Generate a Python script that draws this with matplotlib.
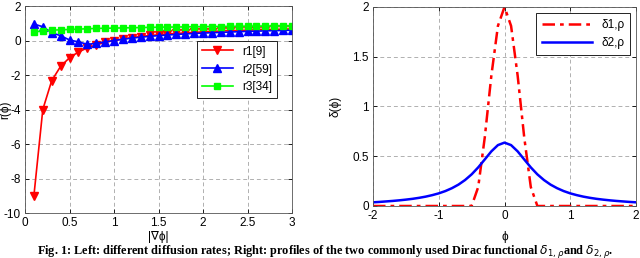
import matplotlib
matplotlib.use("Agg")
import matplotlib.pyplot as plt

plt.rcParams['font.family'] = ['Liberation Sans', 'DejaVu Sans']
plt.rcParams['axes.unicode_minus'] = False
plt.rcParams['font.size'] = 8.5

# left panel: diffusion rates vs |grad phi|
grad = [0.1, 0.2, 0.3, 0.4, 0.5, 0.6, 0.7, 0.8, 0.9, 1.0,
        1.1, 1.2, 1.3, 1.4, 1.5, 1.6, 1.7, 1.8, 1.9, 2.0,
        2.1, 2.2, 2.3, 2.4, 2.5, 2.6, 2.7, 2.8, 2.9, 3.0]
r1 = [-9.0, -4.0, -2.33, -1.5, -1.0, -0.67, -0.43, -0.25, -0.11, 0.0,
      0.09, 0.17, 0.23, 0.29, 0.33, 0.38, 0.41, 0.44, 0.47, 0.5,
      0.52, 0.55, 0.57, 0.58, 0.6, 0.62, 0.63, 0.64, 0.66, 0.67]
r2 = [0.95, 0.8, 0.45, 0.28, 0.03, -0.08, -0.22, -0.17, -0.08, 0.0,
      0.07, 0.14, 0.19, 0.24, 0.28, 0.32, 0.35, 0.38, 0.41, 0.43,
      0.45, 0.47, 0.49, 0.51, 0.53, 0.54, 0.56, 0.57, 0.58, 0.6]
r3 = [0.5, 0.55, 0.6, 0.62, 0.64, 0.66, 0.68, 0.7, 0.71, 0.72,
      0.73, 0.74, 0.75, 0.76, 0.77, 0.78, 0.78, 0.79, 0.8, 0.8,
      0.81, 0.81, 0.82, 0.82, 0.83, 0.83, 0.84, 0.84, 0.85, 0.85]

# right panel: Dirac functionals
phi1 = [-2.0, -0.5, -0.4, -0.3, -0.2, -0.1, 0.0, 0.1, 0.2, 0.3, 0.4, 0.5, 2.0]
d1 = [0.0, 0.0, 0.19, 0.69, 1.31, 1.81, 2.0, 1.81, 1.31, 0.69, 0.19, 0.0, 0.0]
phi2 = [-2.0, -1.9, -1.8, -1.7, -1.6, -1.5, -1.4, -1.3, -1.2, -1.1, -1.0,
        -0.9, -0.8, -0.7, -0.6, -0.5, -0.4, -0.3, -0.2, -0.1, 0.0,
        0.1, 0.2, 0.3, 0.4, 0.5, 0.6, 0.7, 0.8, 0.9, 1.0,
        1.1, 1.2, 1.3, 1.4, 1.5, 1.6, 1.7, 1.8, 1.9, 2.0]
d2 = [0.037, 0.041, 0.046, 0.051, 0.057, 0.064, 0.072, 0.082, 0.094, 0.109, 0.127,
      0.150, 0.179, 0.215, 0.261, 0.318, 0.388, 0.468, 0.549, 0.612, 0.637,
      0.612, 0.549, 0.468, 0.388, 0.318, 0.261, 0.215, 0.179, 0.150, 0.127,
      0.109, 0.094, 0.082, 0.072, 0.064, 0.057, 0.051, 0.046, 0.041, 0.037]

W, H = 640, 258
fig = plt.figure(figsize=(6.4, 2.58), dpi=100)


def px_axes(x0, y0, x1, y1):
    return fig.add_axes([x0 / W, 1 - y1 / H, (x1 - x0) / W, (y1 - y0) / H])


def style(ax):
    ax.grid(True, color='#b0b0b0', linestyle=(0, (4, 3)), linewidth=0.7)
    ax.set_axisbelow(True)
    ax.tick_params(direction='in', length=3, width=0.6, top=True, right=True, pad=3)
    for s in ax.spines.values():
        s.set_linewidth(0.6)
        s.set_color('#555555')


ax1 = px_axes(25, 6, 292, 213)
ax1.plot(grad, r1, '-v', color='red', ms=6, lw=1.2, label='r1[9]')
ax1.plot(grad, r2, '-^', color='blue', ms=6, lw=1.2, label='r2[59]')
ax1.plot(grad, r3, '-s', color='#00ff00', ms=5, lw=1.2, label='r3[34]')
ax1.set_xlim(0, 3)
ax1.set_ylim(-10, 2)
ax1.set_xticks([0, 0.5, 1, 1.5, 2, 2.5, 3])
ax1.set_xticklabels(['0', '0.5', '1', '1.5', '2', '2.5', '3'])
ax1.set_yticks(range(-10, 3, 2))
ax1.set_xlabel('|∇ϕ|')
ax1.set_ylabel('r(ϕ)')
ax1.xaxis.set_label_coords(0.5, (213 - 237) / 207, transform=ax1.transAxes)
ax1.yaxis.set_label_coords((5 - 25) / 267, 0.5, transform=ax1.transAxes)
ax1.xaxis.label.set_va('center')
ax1.yaxis.label.set_va('center')
style(ax1)
leg = ax1.legend(loc='upper right', bbox_to_anchor=(0.965, 0.86), fancybox=False,
                 edgecolor='black', framealpha=1, handlelength=2.6,
                 borderpad=0.4, labelspacing=0.5, fontsize=8.5)
leg.get_frame().set_linewidth(0.6)

ax2 = px_axes(373, 7, 636, 206)
ax2.plot(phi1, d1, color='red', lw=1.8, linestyle=(0, (5, 2, 1.5, 2)), label='δ1,ρ')
ax2.plot(phi2, d2, color='blue', lw=1.8, label='δ2,ρ')
ax2.set_xlim(-2, 2)
ax2.set_ylim(0, 2)
ax2.set_xticks([-2, -1, 0, 1, 2])
ax2.set_yticks([0, 0.5, 1, 1.5, 2])
ax2.set_yticklabels(['0', '0.5', '1', '1.5', '2'])
ax2.set_xlabel('ϕ')
ax2.set_ylabel('δ(ϕ)')
ax2.xaxis.set_label_coords(0.5, (206 - 237) / 199, transform=ax2.transAxes)
ax2.yaxis.set_label_coords((335 - 373) / 263, 0.5, transform=ax2.transAxes)
ax2.xaxis.label.set_va('center')
ax2.yaxis.label.set_va('center')
style(ax2)
leg2 = ax2.legend(loc='upper right', fancybox=False, edgecolor='black',
                  framealpha=1, handlelength=4.2, borderpad=0.5, fontsize=8.5)
leg2.get_frame().set_linewidth(0.6)

fig.text(325 / W, 1 - 251 / H, r'Fig. 1: Left: different diffusion rates; Right: profiles of the two commonly used Dirac functional $\delta_{1,\rho}$and $\delta_{2,\rho}$.',
         ha='center', va='center', family=['Liberation Serif', 'DejaVu Serif'],
         weight='bold', fontsize=8.8)

fig.savefig('out.png', dpi=100)
